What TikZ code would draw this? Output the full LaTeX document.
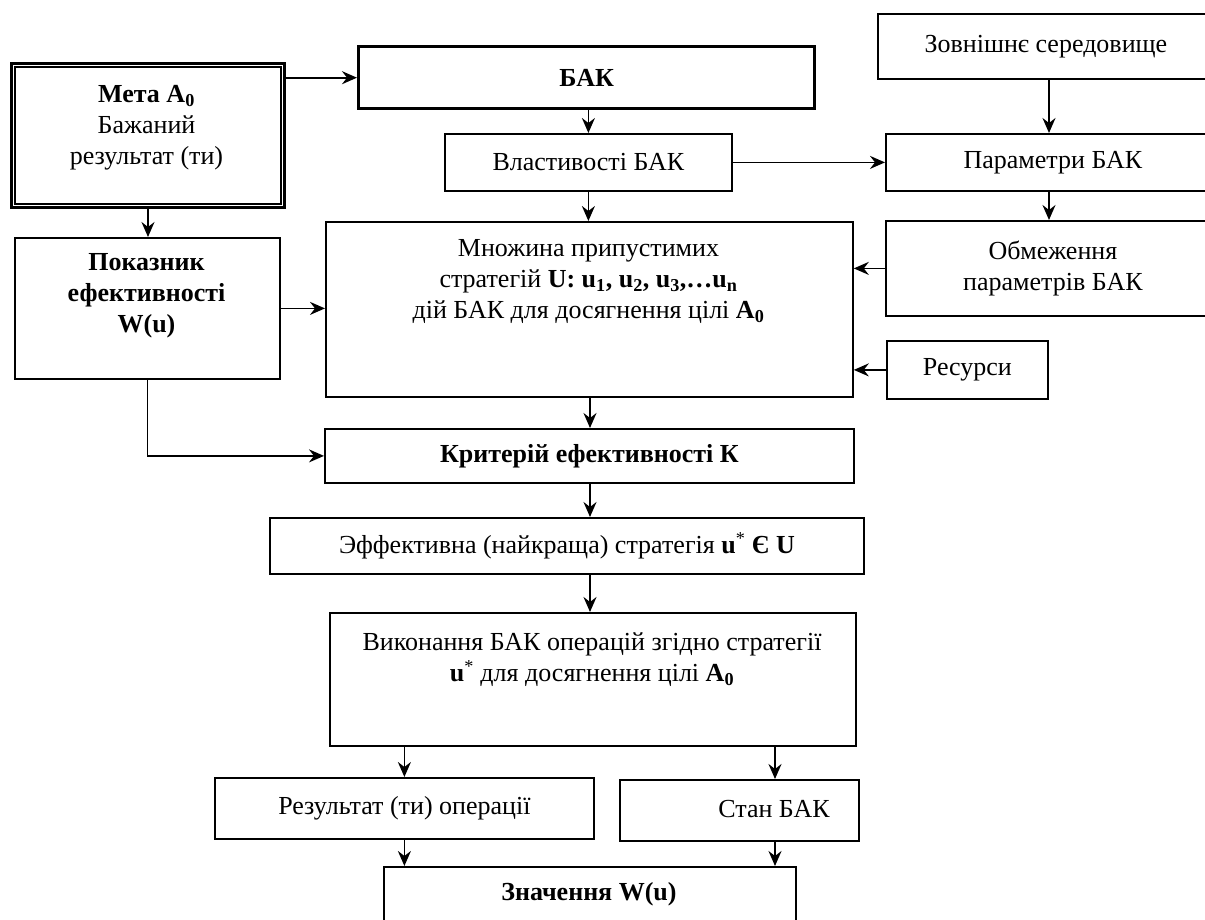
\documentclass[tikz,border=0pt]{standalone}
\usepackage{fontspec}
\setmainfont{Liberation Serif}
\usetikzlibrary{arrows.meta}
\newcommand\fsz{\fontsize{26}{31}\selectfont}
\begin{document}
\begin{tikzpicture}[x=1pt,y=-1pt,
  box/.style={draw, line width=1.8pt, inner sep=0pt, font=\fsz, align=center, anchor=north west},
  txt/.style={inner sep=0pt, font=\fsz, align=center},
  arr/.style={line width=1.7pt, -{Stealth[length=15pt,width=13pt,inset=5pt]}}]
\useasboundingbox (0,0) rectangle (1205,920);
\clip (0,0) rectangle (1205,920);
\fill[white] (0,0) rectangle (1205,920);

% boxes
\node[box, minimum width=336pt, minimum height=65pt] (zov) at (877,13) {Зовнішнє середовище};
\node[box, line width=3.4pt, minimum width=456pt, minimum height=62pt, font=\fsz\bfseries] (bak) at (357,45) {БАК};
\node[box, line width=3pt, minimum width=273pt, minimum height=144pt] (meta) at (10,62) {};
\draw[line width=1.5pt] ([shift={(5pt,-5pt)}]meta.north west) rectangle ([shift={(-5pt,5pt)}]meta.south east);
\node[txt] (metat) at (146.5,128) {\textbf{Мета A\textsubscript{0}}\\Бажаний\\результат (ти)};
\node[box, minimum width=287pt, minimum height=57pt] (vl) at (444,133) {Властивості БАК};
\node[box, minimum width=334pt, minimum height=57pt] (par) at (885,133) {Параметри БАК};
\node[box, minimum width=334pt, minimum height=95pt] (obm) at (885,220) {Обмеження\\параметрів БАК};
\node[box, minimum width=527pt, minimum height=175pt] (mn) at (325,221) {};
\node[txt] (mnt) at (588.5,282) {Множина припустимих\\стратегій \textbf{U: u\textsubscript{1}, u\textsubscript{2}, u\textsubscript{3},…u\textsubscript{n}}\\дій БАК для досягнення цілі \textbf{A\textsubscript{0}}};
\node[box, minimum width=265pt, minimum height=141pt] (pok) at (14,237) {};
\node[txt, font=\fsz\bfseries] (pokt) at (146.5,296) {Показник\\ефективності\\W(u)};
\node[box, minimum width=161pt, minimum height=58pt] (res) at (886,340) {Ресурси};
\node[box, minimum width=529pt, minimum height=54pt, font=\fsz\bfseries] (kr) at (324,428) {Критерій ефективності К};
\node[box, minimum width=594pt, minimum height=56pt] (ef) at (269,517) {Эффективна (найкраща) стратегія \textbf{u}\textsuperscript{*} \textbf{Є U}};
\node[box, minimum width=526pt, minimum height=133pt] (vik) at (329,612) {};
\node[txt] (vikt) at (592,660) {Виконання БАК операцій згідно стратегії\\\textbf{u}\textsuperscript{*} для досягнення цілі \textbf{A\textsubscript{0}}};
\node[box, minimum width=379pt, minimum height=61pt] (rez) at (214,777) {Результат (ти) операції};
\node[box, minimum width=239pt, minimum height=61pt] (stan) at (619,779) {};
\node[txt] (stant) at (774,809.5) {Стан БАК};
\node[box, minimum width=412pt, minimum height=100pt] (zn) at (383,866) {};
\node[txt, font=\fsz\bfseries] (znt) at (589,894) {Значення W(u)};

\coordinate (cx) at (1049,0);
\coordinate (sx) at (775,0);
\coordinate (mx) at (590,0);

% connectors
\draw[arr] (bak.west -| meta.east) -- (bak.west);
\draw[arr] (vl.north |- bak.south) -- (vl.north);
\draw[arr] (vl.east) -- (vl.east -| par.west);
\draw[arr] (zov.south -| cx) -- (par.north -| cx);
\draw[arr] (par.south -| cx) -- (obm.north -| cx);
\draw[arr] (vl.south) -- (mn.north -| vl.south);
\draw[arr] (obm.west) -- (obm.west -| mn.east);
\draw[arr] (res.west) -- (res.west -| mn.east);
\draw[arr] (meta.south) -- (meta.south |- pok.north);
\draw[arr] (pok.east) -- (pok.east -| mn.west);
\draw[arr] (pok.south) |- (kr.west);
\draw[arr] (mn.south -| mx) -- (kr.north -| mx);
\draw[arr] (kr.south -| mx) -- (ef.north -| mx);
\draw[arr] (ef.south -| mx) -- (vik.north -| mx);
\draw[arr] (vik.south -| rez.north) -- (rez.north);
\draw[arr] (vik.south -| sx) -- (stan.north -| sx);
\draw[arr] (rez.south) -- (zn.north -| rez.south);
\draw[arr] (stan.south -| sx) -- (zn.north -| sx);
\end{tikzpicture}
\end{document}
